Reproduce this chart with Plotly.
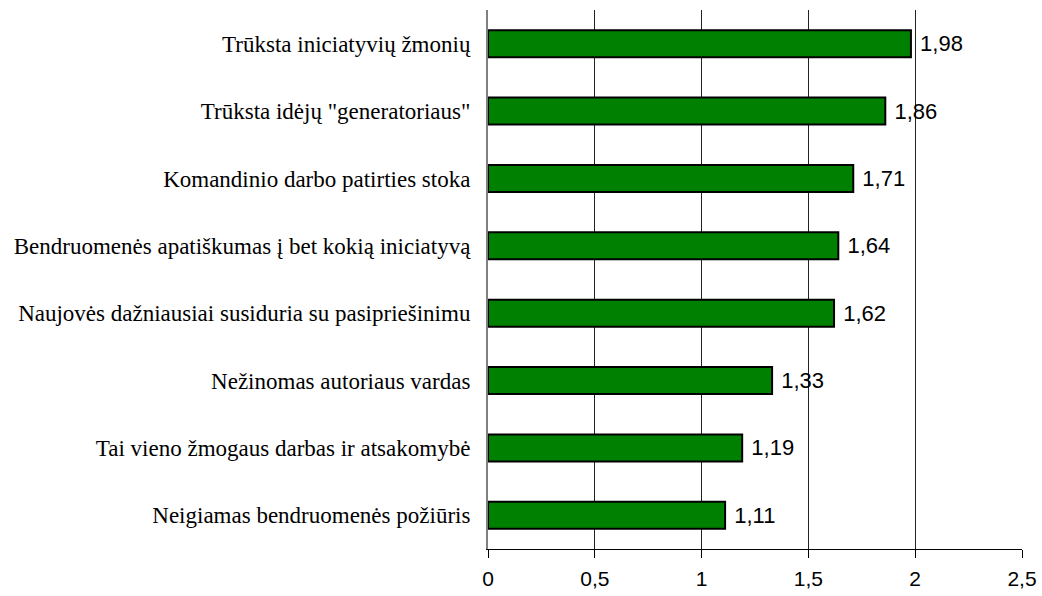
import plotly.graph_objects as go

categories = [
    "Trūksta iniciatyvių žmonių",
    'Trūksta idėjų "generatoriaus"',
    "Komandinio darbo patirties stoka",
    "Bendruomenės apatiškumas į bet kokią iniciatyvą",
    "Naujovės dažniausiai susiduria su pasipriešinimu",
    "Nežinomas autoriaus vardas",
    "Tai vieno žmogaus darbas ir atsakomybė",
    "Neigiamas bendruomenės požiūris",
]
values = [1.98, 1.86, 1.71, 1.64, 1.62, 1.33, 1.19, 1.11]
x_ticks = [0, 0.5, 1, 1.5, 2, 2.5]

fig = go.Figure(
    go.Bar(
        x=values,
        y=categories,
        orientation="h",
        marker=dict(color="#008000", line=dict(color="black", width=2)),
        texttemplate=" %{x:.2f}",
        textposition="outside",
        cliponaxis=False,
        textfont=dict(family="Liberation Sans, Arial", size=22, color="black"),
    )
)

fig.update_layout(
    width=1042,
    height=596,
    margin=dict(l=488, r=20, t=10, b=47, autoexpand=False),
    paper_bgcolor="white",
    plot_bgcolor="white",
    separators=", ",
    bargap=0.6,
    showlegend=False,
)

fig.update_xaxes(
    range=[0, 2.5],
    tickvals=x_ticks,
    automargin=False,
    showgrid=True,
    gridcolor="#222222",
    gridwidth=1,
    showline=True,
    linecolor="black",
    linewidth=1,
    ticks="outside",
    ticklen=8,
    tickcolor="black",
    ticklabelstandoff=3,
    zeroline=False,
    tickfont=dict(family="Liberation Sans, Arial", size=21, color="black"),
)

fig.update_yaxes(
    autorange="reversed",
    automargin=False,
    showline=True,
    linecolor="#808080",
    linewidth=2,
    ticks="",
    ticklabelstandoff=11,
    tickfont=dict(family="Liberation Serif, Times New Roman", size=23, color="black"),
)

# remove the default 8px page margin so the figure fills the window exactly
fig.write_html(
    "out.html",
    config={"displayModeBar": False},
    post_script="document.body.style.margin='0';document.body.style.overflow='hidden';",
)
